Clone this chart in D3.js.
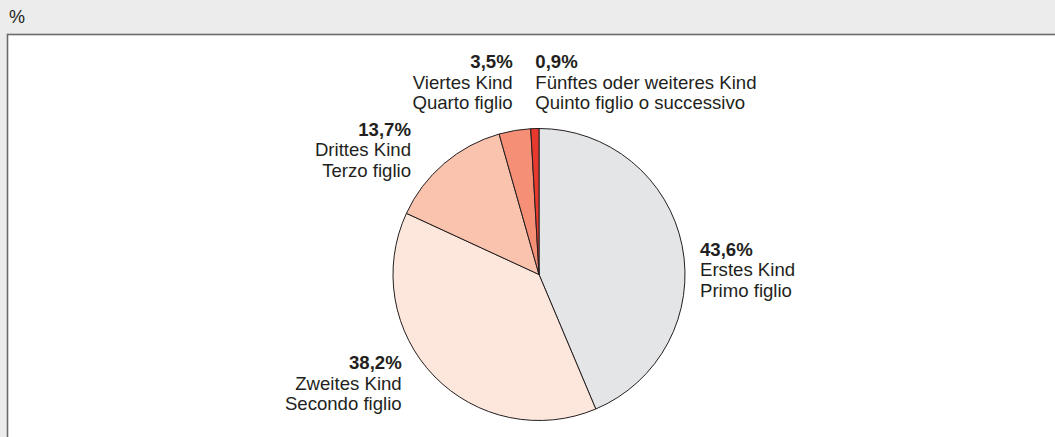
<!DOCTYPE html>
<html>
<head>
<meta charset="utf-8">
<script src="https://cdn.jsdelivr.net/npm/d3@7"></script>
<style>
  html, body { margin: 0; padding: 0; background: #ececec; }
  svg { display: block; }
  text { font-family: "Liberation Sans", Arial, Helvetica, sans-serif; fill: #231f20; }
</style>
</head>
<body>
<svg id="chart" width="1055" height="437"></svg>
<script>
// ---- data ----
const categoriesDe = ["Erstes Kind", "Zweites Kind", "Drittes Kind", "Viertes Kind", "Fünftes oder weiteres Kind"];
const categoriesIt = ["Primo figlio", "Secondo figlio", "Terzo figlio", "Quarto figlio", "Quinto figlio o successivo"];
const values = [43.6, 38.2, 13.7, 3.5, 0.9];
const unitLabel = "%";

// ---- styles / layout ----
const colors = ["#e4e5e7", "#fde7dd", "#f9c3ae", "#f58f76", "#e8392f"];
const W = 1055, H = 437;
const cx = 539, cy = 274.5, R = 146;
const fontSize = 18.6, lineGap = 20.5;
// label anchors relative to pie centre
const labelLayout = [
  { dx: 161, dy: -18.8, anchor: "start" },
  { dx: -137.3, dy: 94.5, anchor: "end" },
  { dx: -128, dy: -138.8, anchor: "end" },
  { dx: -26.3, dy: -206.2, anchor: "end" },
  { dx: -3.7, dy: -206.2, anchor: "start" }
];

const locale = d3.formatLocale({ decimal: ",", thousands: ".", grouping: [3], currency: ["", "€"] });
const fmt = locale.format(".1f");

const svg = d3.select("#chart");

// background & plot frame
svg.append("rect").attr("x", 0).attr("y", 0).attr("width", W).attr("height", H).attr("fill", "#ececec");
svg.append("rect").attr("x", 7.5).attr("y", 34.5).attr("width", W + 10).attr("height", H + 10)
  .attr("fill", "#ffffff").attr("stroke", "#6b6b6b").attr("stroke-width", 1.6);

svg.append("text").attr("x", 9).attr("y", 23).attr("font-size", 18).text(unitLabel);

const pie = d3.pie().sort(null).value(d => d);
const arcs = pie(values);
const arc = d3.arc().innerRadius(0).outerRadius(R);

const g = svg.append("g").attr("transform", `translate(${cx},${cy})`);
g.selectAll("path").data(arcs).join("path")
  .attr("d", arc)
  .attr("fill", (d, i) => colors[i])
  .attr("stroke", "#231f20")
  .attr("stroke-width", 1)
  .attr("stroke-linejoin", "round");

const labels = g.selectAll("text.lbl").data(arcs).join("text")
  .attr("class", "lbl")
  .attr("font-size", fontSize)
  .attr("text-anchor", (d, i) => labelLayout[i].anchor)
  .attr("transform", (d, i) => `translate(${labelLayout[i].dx},${labelLayout[i].dy})`);

labels.append("tspan").attr("x", 0).attr("y", 0).attr("font-weight", "bold")
  .text(d => fmt(d.data) + "%");
labels.append("tspan").attr("x", 0).attr("y", lineGap).text((d, i) => categoriesDe[i]);
labels.append("tspan").attr("x", 0).attr("y", lineGap * 2).text((d, i) => categoriesIt[i]);
</script>
</body>
</html>
